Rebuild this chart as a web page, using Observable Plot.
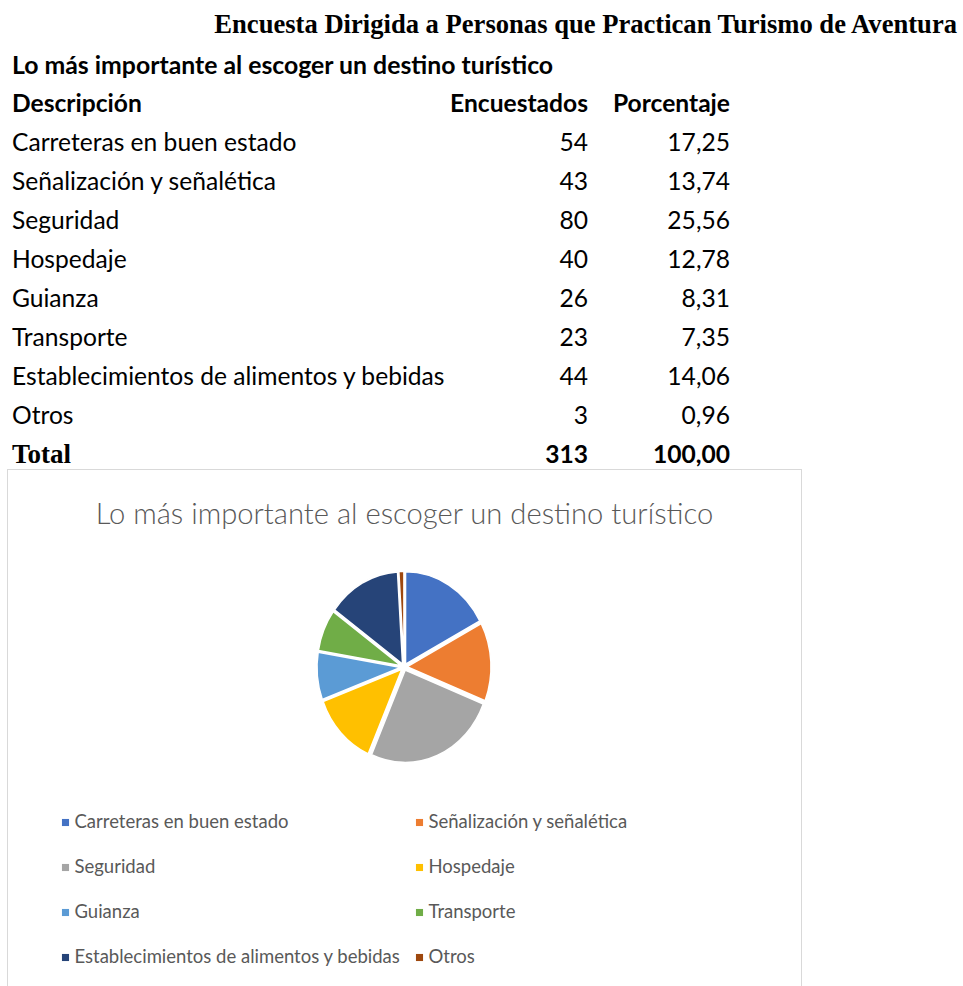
<!DOCTYPE html>
<html>
<head>
<meta charset="utf-8">
<script src="https://cdn.jsdelivr.net/npm/d3@7"></script>
<script src="https://cdn.jsdelivr.net/npm/@observablehq/plot@0.6"></script>
<style>
  html, body { margin: 0; padding: 0; background: #fff; overflow: hidden; }
  body { width: 963px; height: 986px; position: relative; font-family: Lato, "Noto Sans", sans-serif; color: #000; }
  .abs { position: absolute; white-space: nowrap; line-height: 1; }
  #title { font-family: "Liberation Serif", "DejaVu Serif", serif; font-weight: bold; font-size: 26.6px; right: 6px; top: 11px; }
  #subtitle { font-weight: bold; font-size: 24.8px; left: 12px; top: 53px; }
  .cell { font-size: 24.6px; }
  .bold { font-weight: bold; }
  .serif { font-family: "Liberation Serif", serif; font-weight: bold; font-size: 27px; }
  #box { position: absolute; left: 7px; top: 469px; width: 795px; height: 560px; border: 1.5px solid #d9d9d9; box-sizing: border-box; }
  #chartTitle { position: absolute; left: 0; width: 100%; top: 28px; text-align: center; font-size: 29.2px; font-weight: 300; color: #595959; line-height: 1; }
  #chart { position: absolute; left: 0; top: 70px; }
</style>
</head>
<body>
<div id="title" class="abs">Encuesta Dirigida a Personas que Practican Turismo de Aventura</div>
<div id="subtitle" class="abs">Lo más importante al escoger un destino turístico</div>
<div id="table"></div>
<div id="box">
  <div id="chartTitle">Lo más importante al escoger un destino turístico</div>
  <div id="chart"></div>
</div>
<script>
// ---- data ----
const headers = ["Descripción", "Encuestados", "Porcentaje"];
const categories = [
  "Carreteras en buen estado",
  "Señalización y señalética",
  "Seguridad",
  "Hospedaje",
  "Guianza",
  "Transporte",
  "Establecimientos de alimentos y bebidas",
  "Otros"
];
const respondents = [54, 43, 80, 40, 26, 23, 44, 3];
const percentages = [17.25, 13.74, 25.56, 12.78, 8.31, 7.35, 14.06, 0.96];
const totalLabel = "Total";
const totalRespondents = 313;
const totalPercentage = 100.00;
const colors = ["#4472C4", "#ED7D31", "#A5A5A5", "#FFC000", "#5B9BD5", "#70AD47", "#264478", "#9E480E"];

const fmtPct = v => v.toFixed(2).replace(".", ",");

// ---- table (HTML) ----
const table = document.getElementById("table");
const rowTop = 91, rowStep = 39;
const colDesc = 12, colEncRight = 963 - 588, colPctRight = 963 - 730;
function addCell(text, row, cls, align, dy = 0) {
  const d = document.createElement("div");
  d.className = "abs " + cls;
  d.textContent = text;
  d.style.top = (rowTop + row * rowStep + dy) + "px";
  if (align === "left") d.style.left = colDesc + "px";
  else d.style.right = align + "px";
  table.appendChild(d);
}
addCell(headers[0], 0, "cell bold", "left");
addCell(headers[1], 0, "cell bold", colEncRight);
addCell(headers[2], 0, "cell bold", colPctRight);
categories.forEach((c, i) => {
  addCell(c, i + 1, "cell", "left");
  addCell(String(respondents[i]), i + 1, "cell", colEncRight);
  addCell(fmtPct(percentages[i]), i + 1, "cell", colPctRight);
});
const tr = categories.length + 1;
addCell(totalLabel, tr, "serif", "left", -1);
addCell(String(totalRespondents), tr, "cell bold", colEncRight);
addCell(fmtPct(totalPercentage), tr, "cell bold", colPctRight);

// ---- chart (Plot) ----
const pieData = categories.map((name, i) => ({name, value: respondents[i]}));
const legendData = categories.map((name, i) => ({name, col: i % 2, row: Math.floor(i / 2)}));

function pieMark(index, scales, values, dimensions) {
  const R = 84, explode = 3, stretch = 1.1;
  const cx = dimensions.width / 2, cy = 127;
  const arcs = d3.pie().sort(null).value(d => d.value)(pieData);
  const arc = d3.arc().innerRadius(0).outerRadius(R);
  const color = scales.color || (n => colors[categories.indexOf(n)]);
  const g = d3.create("svg:g").attr("transform", `translate(${cx},${cy}) scale(1,${stretch})`);
  g.selectAll("path").data(arcs).join("path")
    .attr("d", arc)
    .attr("fill", d => color(d.data.name))
    .attr("stroke", "#fff")
    .attr("stroke-width", 1.5)
    .attr("transform", d => {
      const a = (d.startAngle + d.endAngle) / 2;
      return `translate(${explode * Math.sin(a)},${-explode * Math.cos(a)})`;
    });
  return g.node();
}

const chart = Plot.plot({
  width: 792,
  height: 440,
  margin: 0,
  style: {background: "transparent", fontFamily: "Lato, sans-serif"},
  x: {type: "point", domain: [0, 1], range: [57, 411], padding: 0, axis: null},
  y: {type: "point", domain: [0, 1, 2, 3], range: [281, 418], padding: 0, axis: null},
  color: {domain: categories, range: colors},
  marks: [
    pieMark,
    Plot.dot(legendData, {x: "col", y: "row", fill: "name", symbol: "square", r: 4}),
    Plot.text(legendData, {x: "col", y: "row", text: "name", dx: 9, textAnchor: "start", fill: "#595959", fontSize: 18.5})
  ]
});
document.getElementById("chart").appendChild(chart);
</script>
</body>
</html>
